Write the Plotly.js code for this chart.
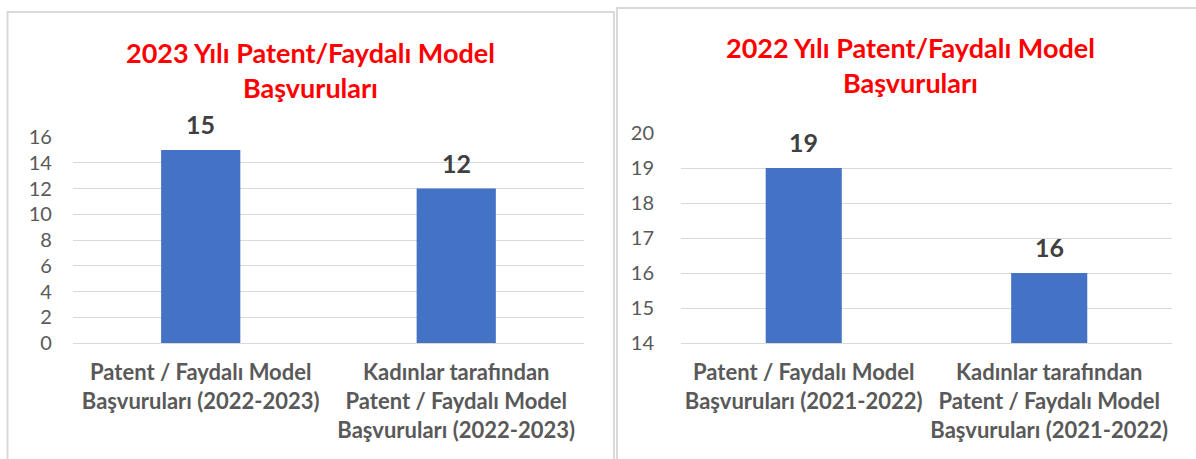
<!DOCTYPE html>
<html>
<head>
<meta charset="utf-8">
<script src="https://cdn.plot.ly/plotly-3.0.1.min.js"></script>
<style>html,body{margin:0;padding:0;background:#fff;}#chart{width:1196px;height:459px;}</style>
</head>
<body>
<div id="chart"></div>
<script>
// Left chart (2023)
const titleLeft = "2023 Yılı Patent/Faydalı Model<br>Başvuruları";
const catsLeft = ["Patent / Faydalı Model<br>Başvuruları (2022-2023)", "Kadınlar tarafından<br>Patent / Faydalı Model<br>Başvuruları (2022-2023)"];
const valsLeft = [15, 12];
const yTicksLeft = [0, 2, 4, 6, 8, 10, 12, 14, 16];

// Right chart (2022)
const titleRight = "2022 Yılı Patent/Faydalı Model<br>Başvuruları";
const catsRight = ["Patent / Faydalı Model<br>Başvuruları (2021-2022)", "Kadınlar tarafından<br>Patent / Faydalı Model<br>Başvuruları (2021-2022)"];
const valsRight = [19, 16];
const yTicksRight = [14, 15, 16, 17, 18, 19, 20];

const FONT = "Lato, 'Open Sans', 'DejaVu Sans', sans-serif";
const BAR = "#4472c4";
const GRID = "#d9d9d9";
const TICK = "#595959";

const data = [
  {type: "bar", x: catsLeft, y: valsLeft, xaxis: "x", yaxis: "y",
   marker: {color: BAR}, hoverinfo: "skip", showlegend: false},
  {type: "bar", x: catsRight, y: valsRight.map(v => v - yTicksRight[0]), base: yTicksRight[0],
   xaxis: "x2", yaxis: "y2", marker: {color: BAR}, hoverinfo: "skip", showlegend: false}
];

function labelAnns(cats, vals, xref, yref) {
  return cats.map((c, i) => ({
    x: c, y: vals[i], xref: xref, yref: yref, text: String(vals[i]),
    showarrow: false, yanchor: "bottom", yshift: 9,
    font: {family: FONT, size: 25, color: "#404040", weight: "bold"}
  }));
}

const xAxisBase = {
  type: "category", showgrid: false, showline: true, linecolor: GRID, linewidth: 1,
  ticks: "", tickfont: {family: FONT, size: 22, color: TICK, weight: "bold"},
  fixedrange: true, ticklabelstandoff: 10
};
const yAxisBase = {
  showgrid: true, gridcolor: GRID, gridwidth: 1, zeroline: false, showline: false,
  ticks: "", tickfont: {family: FONT, size: 20, color: TICK}, fixedrange: true
};

const layout = {
  width: 1196, height: 459,
  margin: {l: 0, r: 0, t: 0, b: 0},
  paper_bgcolor: "#ffffff", plot_bgcolor: "rgba(0,0,0,0)",
  bargap: 0.69,
  font: {family: FONT},
  xaxis: Object.assign({}, xAxisBase, {domain: [0.061, 0.4883], anchor: "y"}),
  yaxis: Object.assign({}, yAxisBase, {domain: [0.2527, 0.7015], range: [0, 16], tickvals: yTicksLeft, anchor: "x", ticklabelstandoff: 20}),
  xaxis2: Object.assign({}, xAxisBase, {domain: [0.5694, 0.9799], anchor: "y2"}),
  yaxis2: Object.assign({}, yAxisBase, {domain: [0.2527, 0.7102], range: [14, 20], tickvals: yTicksRight, anchor: "x2", ticklabelstandoff: 26}),
  shapes: [
    {type: "rect", xref: "paper", yref: "paper", x0: 7.5/1196, x1: 614/1196, y0: -0.05, y1: 1 - 12/459,
     line: {color: GRID, width: 2}, fillcolor: "rgba(0,0,0,0)", layer: "below"},
    {type: "rect", xref: "paper", yref: "paper", x0: 617/1196, x1: 1.05, y0: -0.05, y1: 1 - 8/459,
     line: {color: GRID, width: 2}, fillcolor: "rgba(0,0,0,0)", layer: "below"}
  ],
  annotations: [
    {text: titleLeft, xref: "paper", yref: "paper", x: 310/1196, y: 1 - 70/459, xanchor: "center", yanchor: "middle",
     showarrow: false, font: {family: FONT, size: 27, color: "#ff0000", weight: "bold"}},
    {text: titleRight, xref: "paper", yref: "paper", x: 910/1196, y: 1 - 65/459, xanchor: "center", yanchor: "middle",
     showarrow: false, font: {family: FONT, size: 27, color: "#ff0000", weight: "bold"}}
  ].concat(labelAnns(catsLeft, valsLeft, "x", "y"), labelAnns(catsRight, valsRight, "x2", "y2"))
};

Plotly.newPlot("chart", data, layout, {displayModeBar: false, staticPlot: true});
</script>
</body>
</html>
